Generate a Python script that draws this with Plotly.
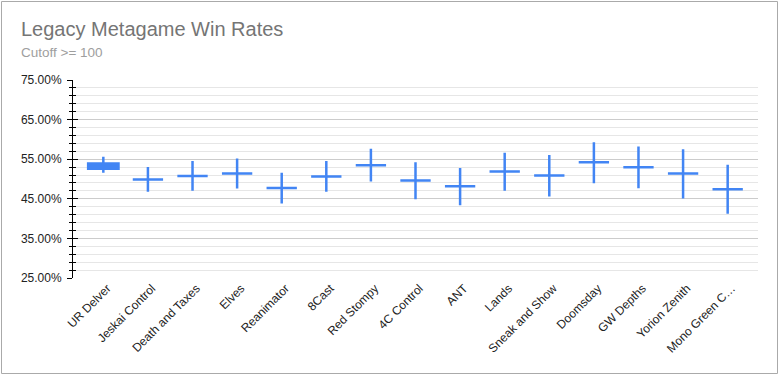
import plotly.graph_objects as go

categories = ["UR Delver", "Jeskai Control", "Death and Taxes", "Elves", "Reanimator",
              "8Cast", "Red Stompy", "4C Control", "ANT", "Lands", "Sneak and Show",
              "Doomsday", "GW Depths", "Yorion Zenith", "Mono Green C…"]
low   = [51.6, 46.8, 47.05, 47.6, 43.8, 46.8, 49.4, 44.9, 43.35, 47.05, 45.6, 48.9, 47.65, 45.1, 41.2]
open_ = [52.6, 49.9, 50.75, 51.4, 47.7, 50.6, 53.5, 49.6, 48.15, 51.9, 50.9, 54.2, 52.95, 51.4, 47.4]
close = [53.9, 49.9, 50.75, 51.4, 47.7, 50.6, 53.5, 49.6, 48.15, 51.9, 50.9, 54.2, 52.95, 51.4, 47.4]
high  = [55.6, 53.0, 54.55, 55.2, 51.6, 54.55, 57.65, 54.2, 52.8, 56.6, 56.05, 59.3, 58.2, 57.5, 53.6]

title = "Legacy Metagame Win Rates"
subtitle = "Cutoff >= 100"
blue = "#4285F4"

L, R, T, B = 73, 21, 80, 97
W, H = 779, 375
pw, ph = W - L - R, H - T - B

fig = go.Figure()
fig.add_trace(go.Candlestick(
    x=categories,
    open=[v / 100 for v in open_], high=[v / 100 for v in high],
    low=[v / 100 for v in low], close=[v / 100 for v in close],
    increasing=dict(line=dict(color=blue, width=2.5), fillcolor=blue),
    decreasing=dict(line=dict(color=blue, width=2.5), fillcolor=blue),
    whiskerwidth=0, showlegend=False,
))
fig.add_trace(go.Scatter(x=[categories[0]], y=[None], yaxis="y2", showlegend=False,
                         hoverinfo="skip"))

fig.update_layout(
    width=W, height=H,
    margin=dict(l=L, r=R, t=T, b=B, autoexpand=False),
    paper_bgcolor="white", plot_bgcolor="white",
    font=dict(family="Arial, Liberation Sans, sans-serif", size=12, color="#222222"),
    boxgap=0.32, boxgroupgap=0,
    xaxis=dict(type="category", range=[-0.68, 14.68], rangeslider=dict(visible=False),
               tickangle=-45, showgrid=False, showline=False, ticks="", automargin=False,
               ticklabelshift=4,
               tickfont=dict(size=12, color="#222222"), fixedrange=True),
    yaxis=dict(range=[0.25, 0.75], dtick=0.1, tick0=0.25, tickformat=".2%", automargin=False,
               showgrid=True, gridcolor="#cccccc", gridwidth=1,
               showline=True, linecolor="black", linewidth=1,
               ticks="outside", ticklen=5, tickcolor="black",
               zeroline=False, ticklabelstandoff=3,
               minor=dict(dtick=0.02, tick0=0.25, showgrid=True, gridcolor="#e6e6e6",
                          ticks="outside", ticklen=3, tickcolor="black"),
               tickfont=dict(size=12, color="#222222")),
    yaxis2=dict(overlaying="y", matches="y", side="left", anchor="x", automargin=False,
                showticklabels=False, showgrid=False, zeroline=False,
                ticks="inside", ticklen=5, tickcolor="black", dtick=0.1, tick0=0.25,
                minor=dict(dtick=0.02, tick0=0.25, ticks="inside", ticklen=3,
                           tickcolor="black", showgrid=False)),
    annotations=[
        dict(text=title, xref="paper", yref="paper", x=(19 - L) / pw, y=(T + ph - 29) / ph,
             xanchor="left", yanchor="middle", showarrow=False,
             font=dict(size=20, color="#757575")),
        dict(text=subtitle, xref="paper", yref="paper", x=(19 - L) / pw, y=(T + ph - 53) / ph,
             xanchor="left", yanchor="middle", showarrow=False,
             font=dict(size=13.5, color="#9e9e9e")),
    ],
    shapes=[dict(type="rect", xref="paper", yref="paper",
                 x0=(1.5 - L) / pw, x1=(777.5 - L) / pw,
                 y0=(T + ph - 373.5) / ph, y1=(T + ph - 1.5) / ph,
                 line=dict(color="#aaaaaa", width=1), layer="above")],
)

fig.write_html("out.html", config={"displayModeBar": False},
               post_script="document.body.style.margin='0';")
